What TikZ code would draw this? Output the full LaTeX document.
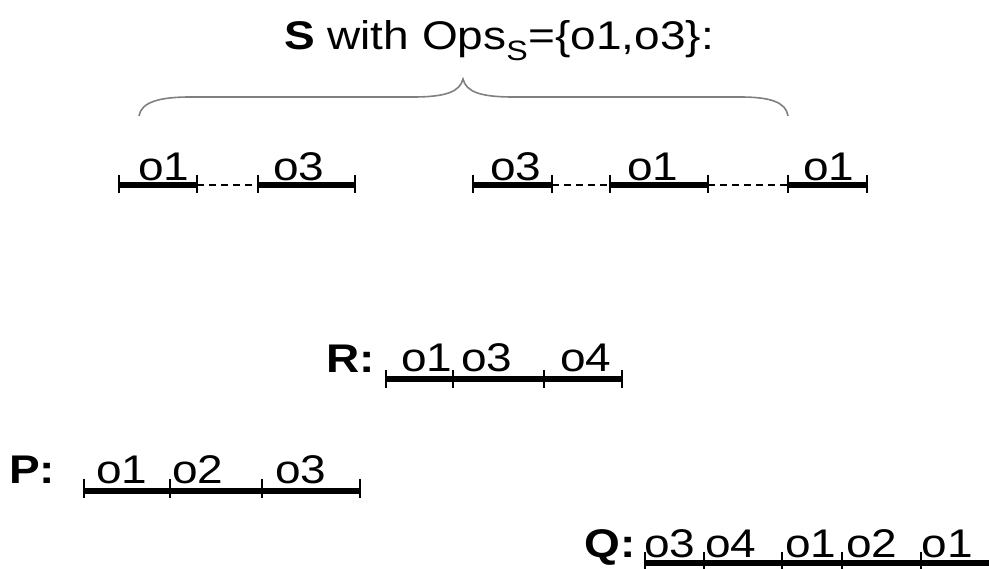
\documentclass[tikz,border=0pt]{standalone}
\usepackage{fontspec}
\setmainfont{Liberation Sans}
\begin{document}
\begin{tikzpicture}[x=1pt,y=-1pt,
  seg/.style={line width=5.5pt},
  tk/.style={line width=2pt},
  gap/.style={line width=1.5pt, dash pattern=on 7pt off 5pt},
  brace/.style={draw=black!50, line width=1.6pt},
  txt/.style={inner sep=0pt, xscale=1.15, transform shape, font=\fontsize{40}{48}\selectfont},
  lbl/.style={txt, anchor=base},
  nm/.style={txt, anchor=base west, font=\fontsize{40}{48}\selectfont\bfseries},
  ttl/.style={txt, anchor=base}]
\useasboundingbox (0,0) rectangle (989,569);

% title and brace
\node[ttl] (title) at (499,50) {\textbf{S} with Ops\textsubscript{S}=\{o1,o3\}:};
\draw[brace] (139,116) .. controls (141,102) and (160,97) .. (190,97) -- (413,97)
  .. controls (445,97) and (460,92) .. (463,79)
  .. controls (466,92) and (481,97) .. (513,97) -- (740,97)
  .. controls (770,97) and (786,102) .. (788,116);

% row 1
\foreach \n/\x in {a1/119,a2/197,a3/258,a4/355} \coordinate (\n) at (\x,185);
\draw[seg] (a1) -- (a2);
\draw[gap] (a2) -- (a3);
\draw[seg] (a3) -- (a4);
\foreach \n in {a1,a2,a3,a4} \draw[tk] (\n) ++(0,-10) -- ++(0,18);
\node[lbl] (la1) at (164,181) {o1};
\node[lbl] (la2) at (299,181) {o3};

% row 2
\foreach \n/\x in {b1/473,b2/552,b3/610,b4/708,b5/788,b6/867} \coordinate (\n) at (\x,185);
\draw[seg] (b1) -- (b2);
\draw[gap] (b2) -- (b3);
\draw[seg] (b3) -- (b4);
\draw[gap] (b4) -- (b5);
\draw[seg] (b5) -- (b6);
\foreach \n in {b1,b2,b3,b4,b5,b6} \draw[tk] (\n) ++(0,-10) -- ++(0,18);
\node[lbl] (lb1) at (516,181) {o3};
\node[lbl] (lb2) at (653,181) {o1};
\node[lbl] (lb3) at (829,181) {o1};

% R
\node[nm] (R) at (326,373) {R:};
\foreach \n/\x in {r1/386,r2/453,r3/544,r4/622} \coordinate (\n) at (\x,379);
\draw[seg] (r1) -- (r4);
\foreach \n in {r1,r2,r3,r4} \draw[tk] (\n) ++(0,-9) -- ++(0,18);
\node[lbl] (lr1) at (427,372) {o1};
\node[lbl] (lr2) at (487,372) {o3};
\node[lbl] (lr3) at (586,372) {o4};

% P
\node[nm] (P) at (9,483) {P:};
\foreach \n/\x in {p1/84,p2/170,p3/262,p4/360} \coordinate (\n) at (\x,491);
\draw[seg] (p1) -- (p4);
\foreach \n in {p1,p2,p3,p4} \draw[tk] (\n) ++(0,-12) -- ++(0,19);
\node[lbl] (lp1) at (122,483) {o1};
\node[lbl] (lp2) at (198,483) {o2};
\node[lbl] (lp3) at (301,483) {o3};

% Q
\node[nm] (Q) at (584,557) {Q:};
\foreach \n/\x in {q1/645,q2/704,q3/782,q4/842,q5/921} \coordinate (\n) at (\x,563);
\coordinate (q6) at (989,563);
\draw[seg] (q1) -- (q6);
\foreach \n in {q1,q2,q3,q4,q5} \draw[tk] (\n) ++(0,-11) -- ++(0,18);
\node[lbl] (lq1) at (670,557) {o3};
\node[lbl] (lq2) at (731,557) {o4};
\node[lbl] (lq3) at (811,557) {o1};
\node[lbl] (lq4) at (872,557) {o2};
\node[lbl] (lq5) at (947,557) {o1};
\end{tikzpicture}
\end{document}
